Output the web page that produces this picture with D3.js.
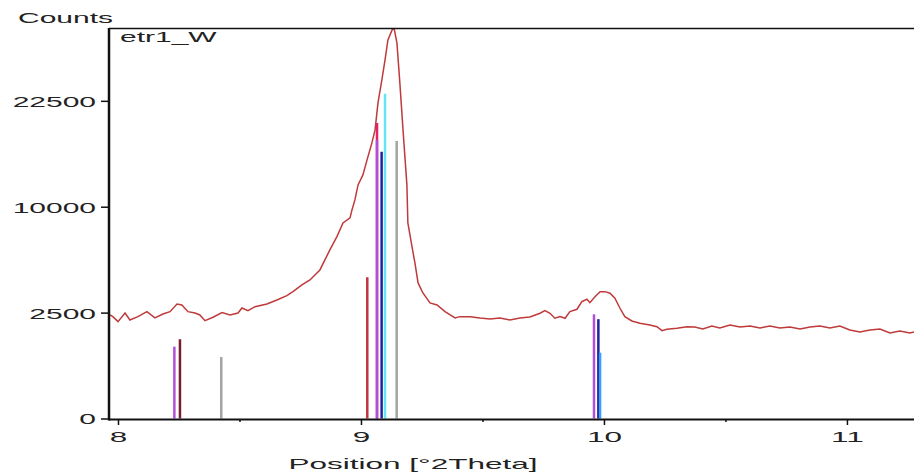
<!doctype html>
<html>
<head>
<style>
  body { margin: 0; background: #fff; }
  text { font-family: "Liberation Sans", Arial, sans-serif; font-size: 15px; fill: #222; }
</style>
<script src="https://d3js.org/d3.v7.min.js"></script>
</head>
<body>
<svg width="914" height="475"></svg>
<script>
// measured profile (2theta, counts)
var theta = [7.967, 7.979, 8.000, 8.029, 8.049, 8.082, 8.119, 8.152, 8.185, 8.214, 8.243, 8.263, 8.288, 8.317, 8.337,
  8.358, 8.391, 8.428, 8.461, 8.494, 8.510, 8.535, 8.564, 8.613, 8.654, 8.695, 8.720, 8.757, 8.790, 8.831,
  8.872, 8.901, 8.926, 8.955, 8.963, 8.975, 8.988, 9.008, 9.025, 9.045, 9.058, 9.070, 9.086, 9.099, 9.111,
  9.128, 9.136, 9.148, 9.160, 9.173, 9.189, 9.193, 9.210, 9.222, 9.235, 9.255, 9.284, 9.313, 9.346, 9.387,
  9.407, 9.449, 9.490, 9.531, 9.572, 9.613, 9.654, 9.695, 9.737, 9.757, 9.778, 9.798, 9.819, 9.840, 9.860,
  9.889, 9.909, 9.930, 9.942, 9.963, 9.984, 10.004, 10.025, 10.045, 10.066, 10.086, 10.115, 10.148, 10.189, 10.218,
  10.239, 10.259, 10.300, 10.342, 10.374, 10.407, 10.444, 10.477, 10.519, 10.560, 10.601, 10.642, 10.683, 10.724, 10.765,
  10.807, 10.848, 10.889, 10.930, 10.971, 11.012, 11.053, 11.095, 11.136, 11.177, 11.218, 11.259, 11.276];
var counts = [2390, 2313, 2091, 2483, 2165, 2313, 2545, 2254, 2437, 2545, 2925, 2874, 2545, 2483, 2390,
  2134, 2285, 2498, 2390, 2483, 2725, 2593, 2789, 2925, 3133, 3365, 3588, 3977, 4280, 4921,
  6335, 7375, 8528, 8970, 9700, 10653, 12166, 13230, 14910, 16935, 18572, 22210, 25567, 28677, 31966,
  33678, 34025, 31462, 25116, 18572, 12166, 8528, 6586, 5395, 4097, 3514, 2977, 2874, 2545, 2254,
  2313, 2313, 2254, 2209, 2254, 2165, 2254, 2299, 2469, 2593, 2469, 2240, 2313, 2240, 2545,
  2661, 3044, 3170, 2992, 3310, 3588, 3588, 3498, 3224, 2710, 2313, 2121, 2022, 1951, 1880,
  1720, 1775, 1815, 1880, 1868, 1788, 1909, 1828, 1951, 1868, 1909, 1828, 1909, 1828, 1868,
  1788, 1868, 1909, 1828, 1909, 1748, 1670, 1748, 1788, 1631, 1708, 1631, 1670];

// reference pattern sticks, one array pair per phase
var pinkPos = [9.066],          pinkCounts = [19470];
var violetPos = [8.232, 9.066, 9.959], violetCounts = [1150, 17300, 2420];
var maroonPos = [8.255],        maroonCounts = [1400];
var grayPos = [8.425, 9.147],   grayCounts = [842, 17170];
var redPos = [9.026],           redCounts = [4450];
var navyPos = [9.085, 9.977],   navyCounts = [15880, 2200];
var cyanPos = [9.099],          cyanCounts = [23500];
var bluePos = [9.984],          blueCounts = [966];

var xTicks = [8, 9, 10, 11];
var xMinor = [8.5, 9.5, 10.5];
var yTicks = [0, 2500, 10000, 22500];

var svg = d3.select("svg");
var plotL = 109, plotR = 914, plotT = 28, plotB = 419;

var x = d3.scaleLinear().domain([7.963, 11.276]).range([plotL, plotR]);
var y = d3.scaleSqrt().domain([0, 34000]).range([418.5, plotT]);

svg.append("defs").append("clipPath").attr("id", "plot")
   .append("rect").attr("x", plotL).attr("y", plotT).attr("width", plotR - plotL).attr("height", plotB - plotT);

var phases = [
  [pinkPos, pinkCounts, "#e8206c"],
  [violetPos, violetCounts, "#b050d8"],
  [maroonPos, maroonCounts, "#7a1c2c"],
  [grayPos, grayCounts, "#a4a4a4"],
  [redPos, redCounts, "#c4303c"],
  [cyanPos, cyanCounts, "#64e4f4"],
  [navyPos, navyCounts, "#22229c"],
  [bluePos, blueCounts, "#3a9cff"]
];

var sticks = svg.append("g").attr("clip-path", "url(#plot)");
phases.forEach(function(p) {
  var d = p[0].map(function(v, i) { return {t: v, c: p[1][i]}; });
  sticks.selectAll(null).data(d).enter().append("line")
    .attr("x1", function(d) { return x(d.t); })
    .attr("x2", function(d) { return x(d.t); })
    .attr("y1", y(0))
    .attr("y2", function(d) { return y(d.c); })
    .attr("stroke", p[2])
    .attr("stroke-width", 2.5);
});

var profile = theta.map(function(t, i) { return [t, counts[i]]; });
svg.append("path")
   .datum(profile)
   .attr("clip-path", "url(#plot)")
   .attr("fill", "none")
   .attr("stroke", "#bf3a3a")
   .attr("stroke-width", 1.5)
   .attr("d", d3.line().x(function(d) { return x(d[0]); }).y(function(d) { return y(d[1]); }));

// axes
var gx = svg.append("g").attr("transform", "translate(0," + plotB + ")")
   .call(d3.axisBottom(x).tickValues(xTicks).tickSize(6).tickFormat(d3.format("d")));
gx.select(".domain").remove();
gx.selectAll("line").attr("stroke", "#111").attr("stroke-width", 1.5);
gx.selectAll("text").attr("y", 23).attr("dy", 0).attr("transform", "scale(2.1,1)")
  .style("font-size", "15px").attr("fill", "#222");

var gm = svg.append("g").attr("transform", "translate(0," + plotB + ")")
   .call(d3.axisBottom(x).tickValues(xMinor).tickSize(3).tickFormat(""));
gm.select(".domain").remove();
gm.selectAll("line").attr("stroke", "#111").attr("stroke-width", 1.5);

var gy = svg.append("g").attr("transform", "translate(" + plotL + ",0)")
   .call(d3.axisLeft(y).tickValues(yTicks).tickSize(8).tickFormat(d3.format("d")));
gy.select(".domain").remove();
gy.selectAll("line").attr("stroke", "#111").attr("stroke-width", 1.5);
gy.selectAll("text").attr("x", -6.5).attr("dy", "0.36em").attr("transform", "scale(2,1)")
  .style("font-size", "15px").attr("fill", "#222");

// frame
svg.append("line").attr("x1", plotL).attr("x2", plotR).attr("y1", plotT + 0.5).attr("y2", plotT + 0.5)
   .attr("stroke", "#111").attr("stroke-width", 1.5);
svg.append("line").attr("x1", plotL).attr("x2", plotR).attr("y1", plotB + 0.5).attr("y2", plotB + 0.5)
   .attr("stroke", "#111").attr("stroke-width", 2);
svg.append("line").attr("x1", plotL).attr("x2", plotL).attr("y1", plotT).attr("y2", plotB + 1.5)
   .attr("stroke", "#111").attr("stroke-width", 2.5);

function label(px, py, txt, anchor, sx) {
  svg.append("text")
     .attr("transform", "translate(" + px + "," + py + ") scale(" + sx + ",1)")
     .attr("text-anchor", anchor)
     .text(txt);
}
label(18, 23, "Counts", "start", 2);
label(120, 42, "etr1_W", "start", 2);
label(413, 469, "Position [°2Theta]", "middle", 2.1);
</script>
</body>
</html>
